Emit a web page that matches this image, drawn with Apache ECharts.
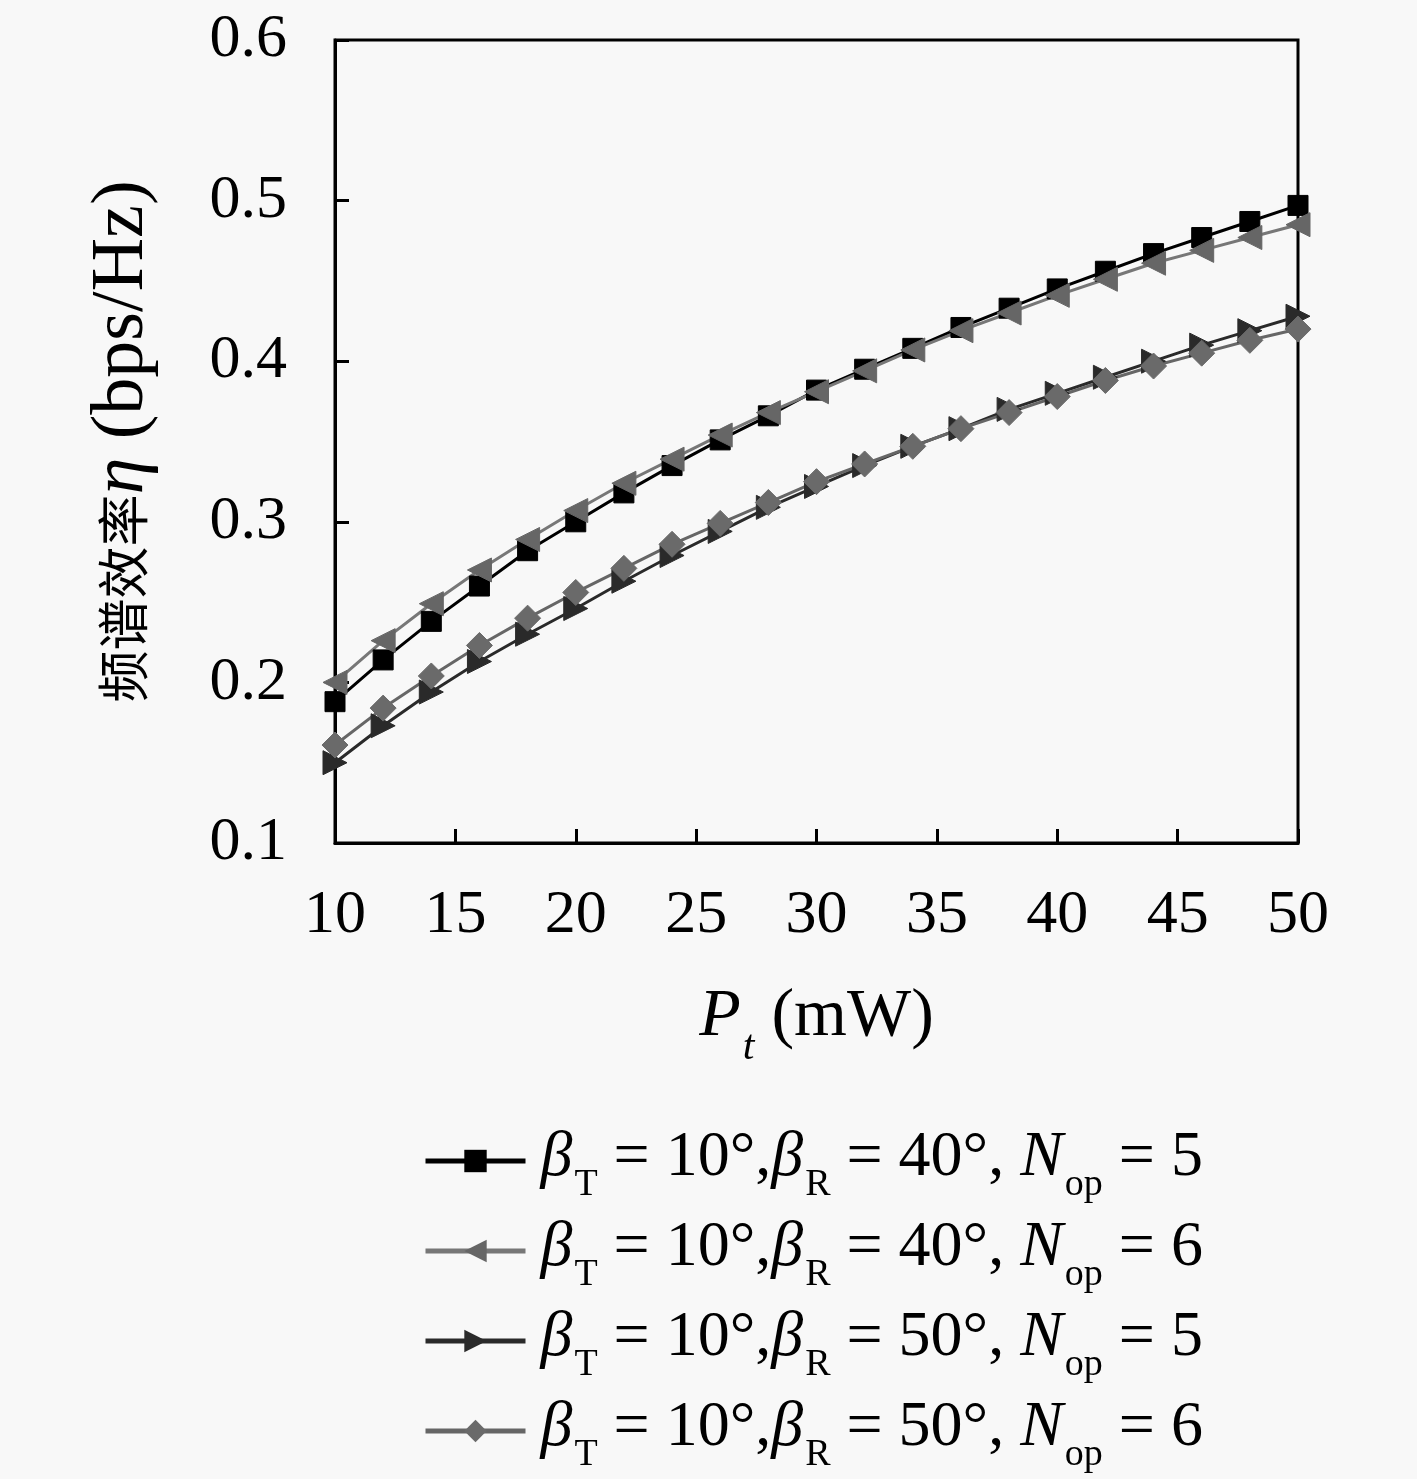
<!DOCTYPE html>
<html>
<head>
<meta charset="utf-8">
<script src="https://cdn.jsdelivr.net/npm/echarts@6/dist/echarts.min.js"></script>
<style>
  html, body { margin: 0; padding: 0; background: #f8f8f8; }
  #chart { width: 1417px; height: 1479px; }
</style>
</head>
<body>
<div id="chart"></div>
<script>
// 发射功率 Pt (mW)
var powerMw = [10, 12, 14, 16, 18, 20, 22, 24, 26, 28, 30, 32, 34, 36, 38, 40, 42, 44, 46, 48, 50];

// 频谱效率 (bps/Hz)
var r40n5 = [0.188, 0.214, 0.238, 0.260, 0.282, 0.300, 0.318, 0.335, 0.351, 0.366, 0.382,
  0.395, 0.408, 0.421, 0.433, 0.445, 0.456, 0.467, 0.477, 0.487, 0.497];
var r40n6 = [0.200, 0.226, 0.249, 0.270, 0.289, 0.307, 0.324, 0.339, 0.354, 0.368, 0.381,
  0.394, 0.407, 0.419, 0.430, 0.441, 0.451, 0.461, 0.469, 0.477, 0.485];
var r50n5 = [0.150, 0.173, 0.194, 0.213, 0.230, 0.246, 0.263, 0.279, 0.294, 0.309, 0.322,
  0.335, 0.347, 0.358, 0.370, 0.380, 0.390, 0.400, 0.410, 0.419, 0.428];
var r50n6 = [0.161, 0.184, 0.204, 0.223, 0.240, 0.256, 0.271, 0.286, 0.299, 0.312, 0.325,
  0.336, 0.347, 0.358, 0.368, 0.378, 0.388, 0.397, 0.405, 0.413, 0.420];

// 图例参数
var seriesNames = ['s1', 's2', 's3', 's4'];
var betaR = ['40', '40', '50', '50'];
var nOp = ['5', '6', '5', '6'];

var serif = '"Liberation Serif", "DejaVu Serif", serif';
var cjk = '"Noto Sans CJK SC", sans-serif';
var sp = '\u2005';

function pairs(ys) {
  return ys.map(function (y, i) { return [powerMw[i], y]; });
}

var chart = echarts.init(document.getElementById('chart'));

var legendRich = {
  n: { fontFamily: serif, fontSize: 64, color: '#000', lineHeight: 70, verticalAlign: 'top' },
  i: { fontFamily: serif, fontSize: 64, fontStyle: 'italic', color: '#000', lineHeight: 70, verticalAlign: 'top' },
  s: { fontFamily: serif, fontSize: 38, color: '#000', lineHeight: 40, verticalAlign: 'top', padding: [40, 0, 0, 2] }
};

var xNameRich = {
  n: { fontFamily: serif, fontSize: 68, color: '#000', lineHeight: 72, verticalAlign: 'top' },
  i: { fontFamily: serif, fontSize: 68, fontStyle: 'italic', color: '#000', lineHeight: 72, verticalAlign: 'top' },
  s: { fontFamily: serif, fontSize: 42, fontStyle: 'italic', color: '#000', lineHeight: 44, verticalAlign: 'top', padding: [44, 0, 0, 2] }
};

function makeSeries(name, data, color, lineColor, symbol, rotate, size) {
  return {
    name: name,
    type: 'line',
    data: pairs(data),
    symbol: symbol,
    symbolRotate: rotate,
    symbolSize: size,
    lineStyle: { color: lineColor, width: 3 },
    itemStyle: { color: color, borderColor: color },
    emphasis: { disabled: true },
    z: 3
  };
}

var option = {
  backgroundColor: '#f8f8f8',
  animation: false,
  grid: {
    left: 335,
    right: 119,
    top: 40,
    bottom: 636,
    show: true,
    borderColor: '#000',
    borderWidth: 3,
    backgroundColor: 'transparent'
  },
  xAxis: {
    type: 'value',
    min: 10,
    max: 50,
    interval: 5,
    name: '{i|P}{s|t}{n|' + sp + '(mW)}',
    nameLocation: 'middle',
    nameGap: 140,
    nameTextStyle: { rich: xNameRich },
    axisLine: { lineStyle: { color: '#000', width: 3 } },
    axisTick: { inside: true, length: 14, lineStyle: { color: '#000', width: 3 } },
    axisLabel: { margin: 42, fontFamily: serif, fontSize: 62, color: '#000' },
    splitLine: { show: false }
  },
  yAxis: {
    type: 'value',
    min: 0.1,
    max: 0.6,
    interval: 0.1,
    name: '{c|频谱效率}{i|η}{n|' + sp + '(bps/Hz)}',
    nameLocation: 'middle',
    nameRotate: 90,
    nameGap: 175,
    nameTextStyle: {
      rich: {
        c: { fontFamily: cjk, fontSize: 52, color: '#000' },
        i: { fontFamily: serif, fontSize: 74, fontStyle: 'italic', color: '#000' },
        n: { fontFamily: serif, fontSize: 74, color: '#000' }
      }
    },
    axisLine: { lineStyle: { color: '#000', width: 3 } },
    axisTick: { inside: true, length: 14, lineStyle: { color: '#000', width: 3 } },
    axisLabel: {
      margin: 48,
      fontFamily: serif,
      fontSize: 62,
      color: '#000',
      formatter: function (v) { return v.toFixed(1); }
    },
    splitLine: { show: false }
  },
  legend: {
    orient: 'vertical',
    left: 418,
    top: 1121,
    itemWidth: 100,
    itemHeight: 28,
    itemGap: 12,
    data: seriesNames,
    lineStyle: { width: 5 },
    formatter: function (name) {
      var k = seriesNames.indexOf(name);
      return '{i|β}{s|T}{n|' + sp + '=' + sp + '10°,}{i|β}{s|R}{n|' + sp + '=' + sp + betaR[k] +
        '°,' + sp + '}{i|N}{s|op}{n|' + sp + '=' + sp + nOp[k] + '}';
    },
    textStyle: { rich: legendRich, padding: [0, 0, 0, 10] }
  },
  series: [
    makeSeries('s1', r40n5, '#000000', '#000000', 'rect', 0, 20),
    makeSeries('s2', r40n6, '#666666', '#777777', 'triangle', 90, 24),
    makeSeries('s3', r50n5, '#2a2a2a', '#2a2a2a', 'triangle', -90, 24),
    makeSeries('s4', r50n6, '#6a6a6a', '#666666', 'diamond', 0, 26)
  ]
};

chart.setOption(option);
</script>
</body>
</html>
